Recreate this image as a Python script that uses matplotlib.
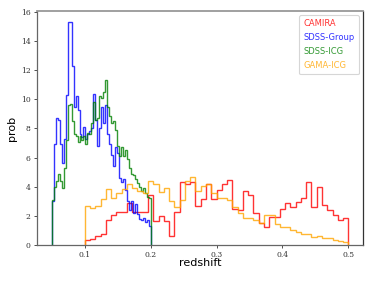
import numpy as np
import matplotlib
matplotlib.use("Agg")
import matplotlib.pyplot as plt

# ---- data (density per bin) ----
camira_range = (0.1, 0.5)
camira = [0.34, 0.44, 0.62, 0.74, 1.72, 2.07, 2.3, 2.3, 2.9, 2.3,
          2.3, 2.3, 3.45, 1.68, 2.0, 1.68, 0.6, 2.25, 4.3, 4.2,
          4.3, 2.7, 3.15, 4.2, 3.15, 3.8, 4.2, 4.45, 2.5, 2.4,
          3.7, 3.4, 2.2, 1.5, 1.26, 1.95, 1.95, 2.5, 2.87, 2.64,
          2.92, 3.26, 4.3, 2.64, 3.95, 2.76, 2.4, 2.07, 1.72, 1.84]

gama_range = (0.1, 0.5)
gama = [2.71, 2.57, 2.71, 3.15, 3.84, 3.2, 3.56, 3.84, 4.18, 3.9,
        3.68, 3.56, 4.41, 4.18, 3.63, 3.9, 3.0, 2.64, 3.1, 4.37,
        4.64, 3.68, 4.07, 4.18, 3.6, 3.2, 3.2, 3.1, 2.6, 2.2,
        1.85, 1.85, 1.75, 1.5, 2.05, 2.05, 1.45, 1.26, 1.24, 1.05,
        0.92, 0.78, 0.74, 0.57, 0.6, 0.5, 0.47, 0.32, 0.28, 0.2]

sdss_group_range = (0.05, 0.2)
sdss_group = [3.0, 6.9, 8.7, 8.6, 6.9, 5.6, 7.3, 10.3, 15.3, 15.3,
              12.3, 9.5, 10.2, 9.3, 7.6, 7.4, 8.1, 7.3, 7.6, 7.8,
              8.0, 10.4, 8.6, 6.8, 8.0, 9.5, 8.4, 9.6, 7.6, 6.9,
              6.2, 5.4, 6.7, 6.3, 4.6, 4.3, 4.5, 3.8, 3.0, 2.4,
              3.0, 2.2, 2.8, 2.1, 1.8, 1.7, 1.85, 1.55, 1.75, 1.3]

sdss_icg_range = (0.05, 0.2)
sdss_icg = [3.1, 4.0, 4.4, 4.9, 4.4, 3.9, 5.3, 7.2, 9.6, 9.7,
            8.5, 7.6, 7.5, 7.1, 7.5, 7.2, 7.5, 6.9, 7.7, 7.6,
            8.4, 9.8, 8.6, 8.7, 10.2, 10.1, 10.5, 11.3, 9.5, 8.85,
            8.4, 8.5, 7.9, 6.8, 6.1, 6.7, 6.1, 6.55, 5.9, 5.3,
            4.9, 4.8, 4.5, 4.25, 4.0, 3.7, 3.9, 3.6, 3.3, 3.2]

labels = ["CAMIRA", "SDSS-Group", "SDSS-ICG", "GAMA-ICG"]
colors = ["#ff0000", "#0000ff", "#008000", "#ffa500"]
xticks = [0.1, 0.2, 0.3, 0.4, 0.5]
yticks = [0, 2, 4, 6, 8, 10, 12, 14, 16]

series = [(camira, camira_range), (sdss_group, sdss_group_range),
          (sdss_icg, sdss_icg_range), (gama, gama_range)]

fig = plt.figure(figsize=(3.74, 2.81), dpi=100)
ax = fig.add_axes([0.099, 0.128, 0.872, 0.833])

for (vals, rng), lab, col in zip(series, labels, colors):
    edges = np.linspace(rng[0], rng[1], len(vals) + 1)
    ax.stairs(vals, edges, color=col, lw=1.0, alpha=0.8, label=lab)

ax.set_xticks(xticks)
ax.set_xticklabels([f"{t:.1f}" for t in xticks])
ax.set_yticks(yticks)
ax.set_yticklabels([str(t) for t in yticks])
for lbl in ax.get_xticklabels() + ax.get_yticklabels():
    lbl.set_fontfamily("DejaVu Serif")
    lbl.set_fontsize(5.5)
    lbl.set_color("#333333")
ax.tick_params(length=2.5, width=0.6, colors="#333333", pad=2)

ax.set_xlabel("redshift", fontsize=8, labelpad=-1)
ax.set_ylabel("prob", fontsize=8, labelpad=3)

for side, sp in ax.spines.items():
    sp.set_linewidth(0.9)
    sp.set_color("#666666")
ax.spines["top"].set_color("#999999")
ax.spines["top"].set_linewidth(1.3)
ax.spines["right"].set_color("#333333")

leg = ax.legend(loc="upper right", fontsize=6, handlelength=0, handletextpad=0,
                labelcolor="linecolor", frameon=True, borderpad=0.5,
                labelspacing=0.6, borderaxespad=0.5)
for h in leg.legend_handles:
    h.set_visible(False)
leg.get_frame().set_edgecolor("#cccccc")
leg.get_frame().set_linewidth(0.8)

fig.savefig("out.png", dpi=100)
